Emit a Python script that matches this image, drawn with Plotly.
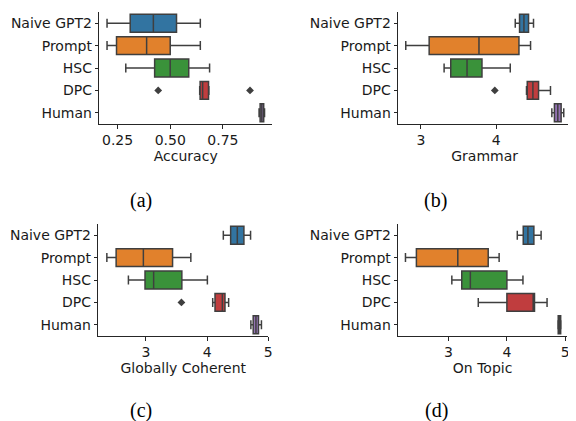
import plotly.graph_objects as go

categories = ["Naive GPT2", "Prompt", "HSC", "DPC", "Human"]
colors = ["#3274a1", "#e1812c", "#3a923a", "#c03d3e", "#9372b2"]

# panel (a) Accuracy: [low whisker, q1, median, q3, high whisker]
acc_stats = [
    [0.200, 0.310, 0.420, 0.530, 0.643],
    [0.200, 0.245, 0.388, 0.500, 0.643],
    [0.289, 0.426, 0.500, 0.588, 0.687],
    [0.640, 0.642, 0.654, 0.682, 0.684],
    [0.922, 0.927, 0.935, 0.944, 0.948],
]
acc_outliers = {"DPC": [0.443, 0.879]}

grammar_stats = [
    [4.251, 4.308, 4.366, 4.427, 4.493],
    [2.800, 3.110, 3.770, 4.300, 4.454],
    [3.308, 3.396, 3.612, 3.810, 4.185],
    [4.400, 4.410, 4.485, 4.560, 4.718],
    [4.736, 4.770, 4.815, 4.859, 4.894],
]
grammar_outliers = {"DPC": [3.98]}

coherent_stats = [
    [4.266, 4.386, 4.495, 4.603, 4.712],
    [2.359, 2.511, 2.957, 3.435, 3.734],
    [2.712, 2.984, 3.125, 3.587, 4.005],
    [4.092, 4.130, 4.250, 4.293, 4.353],
    [4.717, 4.755, 4.800, 4.842, 4.890],
]
coherent_outliers = {"DPC": [3.58]}

topic_stats = [
    [4.178, 4.280, 4.360, 4.462, 4.586],
    [2.263, 2.450, 3.159, 3.680, 3.867],
    [3.057, 3.227, 3.374, 4.000, 4.275],
    [3.510, 4.000, 4.450, 4.473, 4.688],
    [4.875, 4.879, 4.900, 4.921, 4.925],
]
topic_outliers = {}

# page body has an 8px margin: figure is 568x413, placed at (8, 8)
W, H, OFF = 568, 413, 8


def fx(px):
    return (px - OFF) / W


def fy(py):
    return 1 - (py - OFF) / H


panels = [
    dict(stats=acc_stats, out=acc_outliers, title="Accuracy", label="(a)",
         xr=[0.1635, 0.984], tv=[0.25, 0.5, 0.75], tt=["0.25", "0.50", "0.75"],
         x0=100, x1=274, y0=12, y1=124, lx=142, ly=200),
    dict(stats=grammar_stats, out=grammar_outliers, title="Grammar", label="(b)",
         xr=[2.70, 4.99], tv=[3, 4], tt=["3", "4"],
         x0=401, x1=575, y0=12, y1=124, lx=439, ly=200),
    dict(stats=coherent_stats, out=coherent_outliers, title="Globally Coherent", label="(c)",
         xr=[2.22, 5.0], tv=[3, 4, 5], tt=["3", "4", "5"],
         x0=99, x1=270, y0=224, y1=336, lx=142, ly=410),
    dict(stats=topic_stats, out=topic_outliers, title="On Topic", label="(d)",
         xr=[2.139, 5.03], tv=[3, 4, 5], tt=["3", "4", "5"],
         x0=401, x1=571, y0=224, y1=336, lx=440, ly=410),
]

EDGE = "#3f3f3f"
fig = go.Figure()
annotations = []
for i, p in enumerate(panels):
    n = "" if i == 0 else str(i + 1)
    xa, ya = "x" + n, "y" + n
    for j, cat in enumerate(categories):
        lo, q1, med, q3, hi = p["stats"][j]
        fig.add_trace(go.Box(
            y=[cat], q1=[q1], median=[med], q3=[q3], lowerfence=[lo], upperfence=[hi],
            orientation="h", fillcolor=colors[j], line=dict(color=EDGE, width=1.5),
            width=0.8, whiskerwidth=0.5, boxpoints=False, showlegend=False,
            xaxis=xa, yaxis=ya, hoverinfo="skip"))
    for cat, vals in p["out"].items():
        fig.add_trace(go.Scatter(
            x=vals, y=[cat] * len(vals), mode="markers",
            marker=dict(symbol="diamond", size=6, color=EDGE),
            showlegend=False, xaxis=xa, yaxis=ya, hoverinfo="skip"))
    axcommon = dict(showline=True, linecolor="#262626", linewidth=1.2, ticks="outside",
                    ticklen=3.5, tickwidth=1, tickcolor="#262626", showgrid=False,
                    zeroline=False, tickfont=dict(family="DejaVu Sans", size=14, color="#1a1a1a"))
    fig.layout["xaxis" + n] = dict(
        domain=[fx(p["x0"]), fx(p["x1"])], anchor=ya, range=p["xr"],
        tickvals=p["tv"], ticktext=p["tt"],
        title=dict(text=p["title"], standoff=2,
                   font=dict(family="DejaVu Sans", size=14, color="#1a1a1a")),
        **axcommon)
    fig.layout["yaxis" + n] = dict(
        domain=[fy(p["y1"]), fy(p["y0"])], anchor=xa, type="category",
        categoryorder="array", categoryarray=categories, range=[4.5, -0.5], **axcommon)
    annotations.append(dict(text=p["label"], x=fx(p["lx"]), y=fy(p["ly"]),
                            xref="paper", yref="paper", showarrow=False,
                            xanchor="center", yanchor="middle",
                            font=dict(family="Liberation Serif", size=20, color="black")))

fig.update_layout(width=W, height=H, margin=dict(l=0, r=0, t=0, b=0),
                  paper_bgcolor="white", plot_bgcolor="white", boxmode="overlay",
                  annotations=annotations)
fig.write_html("out.html")
